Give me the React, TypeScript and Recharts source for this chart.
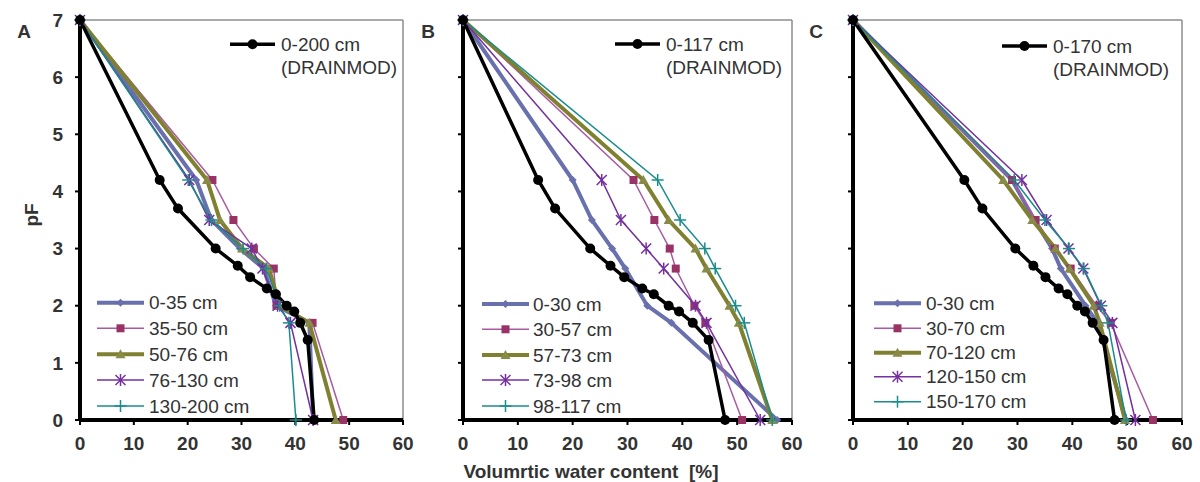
import React from "react";
import { LineChart, Line, XAxis, YAxis, ReferenceLine } from "recharts";

const FONT = '"Liberation Sans", Arial, sans-serif';

// pF levels of the measured points and of the DRAINMOD curve
const pfMeasured = [7, 4.2, 3.5, 3, 2.65, 2, 1.7, 0];
const pfModel = [7, 4.2, 3.7, 3, 2.7, 2.5, 2.3, 2.2, 2, 1.9, 1.7, 1.4, 0];

const xTicks = [0, 10, 20, 30, 40, 50, 60];
const yTicks = [0, 1, 2, 3, 4, 5, 6, 7];

// panel A
const aLabels = ["0-35 cm", "35-50 cm", "50-76 cm", "76-130 cm", "130-200 cm"];
const aModelLabel = "0-200 cm";
const aModel = [0, 14.8, 18.2, 25.2, 29.3, 31.6, 34.7, 36.4, 38.4, 39.8, 40.9, 42.3, 43.5];
const a1 = [0, 21.6, 24.4, 29.7, 34.1, 36.4, 42.6, 43.3];
const a2 = [0, 24.6, 28.5, 32.3, 36.0, 36.5, 43.2, 48.9];
const a3 = [0, 23.6, 26.0, 30.1, 35.1, 37.1, 42.6, 47.5];
const a4 = [0, 20.3, 24.0, 31.9, 33.9, 36.7, 39.1, 43.3];
const a5 = [0, 20.1, 24.4, 30.3, 34.6, 37.1, 38.8, 40.1];

// panel B
const bLabels = ["0-30 cm", "30-57 cm", "57-73 cm", "73-98 cm", "98-117 cm"];
const bModelLabel = "0-117 cm";
const bModel = [0, 13.7, 16.8, 23.2, 26.9, 29.4, 32.7, 34.8, 37.5, 39.4, 41.9, 44.8, 47.8];
const b1 = [0, 20.0, 23.5, 27.2, 29.6, 33.6, 38.0, 57.3];
const b2 = [0, 31.1, 34.9, 37.7, 38.8, 42.2, 44.2, 50.9];
const b3 = [0, 32.9, 37.5, 42.4, 44.4, 48.6, 50.3, 56.4];
const b4 = [0, 25.3, 28.8, 33.4, 36.6, 42.4, 44.4, 54.2];
const b5 = [0, 35.5, 39.6, 44.1, 46.0, 49.7, 51.3, 56.4];

// panel C
const cLabels = ["0-30 cm", "30-70 cm", "70-120 cm", "120-150 cm", "150-170 cm"];
const cModelLabel = "0-170 cm";
const cModel = [0, 20.3, 23.6, 29.6, 32.9, 35.1, 37.5, 39.1, 40.9, 42.3, 43.7, 45.7, 47.7];
const c1 = [0, 29.0, 33.1, 36.3, 37.9, 42.4, 44.6, 49.8];
const c2 = [0, 29.0, 33.3, 36.8, 39.7, 44.4, 47.0, 54.7];
const c3 = [0, 27.4, 32.7, 36.9, 39.5, 43.9, 45.0, 49.6];
const c4 = [0, 30.8, 35.3, 39.3, 42.0, 45.2, 47.3, 51.5];
const c5 = [0, 29.4, 35.0, 39.4, 42.1, 45.3, 46.5, 49.8];

type Shape = "diamond" | "square" | "triangle" | "star" | "plus" | "circle";
type Style = { stroke: string; mark: string; width: number; shape: Shape };

const styles: Style[] = [
  { stroke: "#6870ae", mark: "#6870ae", width: 4, shape: "diamond" },
  { stroke: "#a95aa2", mark: "#993366", width: 1.5, shape: "square" },
  { stroke: "#7f8030", mark: "#8a8a48", width: 4, shape: "triangle" },
  { stroke: "#73309e", mark: "#73309e", width: 1.5, shape: "star" },
  { stroke: "#1a8c8c", mark: "#1a8c8c", width: 1.5, shape: "plus" },
];
const modelStyle: Style = { stroke: "#000", mark: "#000", width: 3.5, shape: "circle" };

const toPoints = (xs: number[], pfs: number[]) => xs.map((x, i) => ({ x, y: pfs[i] }));

function Marker({ shape, x, y, color }: { shape: Shape; x: number; y: number; color: string }) {
  switch (shape) {
    case "diamond":
      return <path d={`M${x},${y - 4}L${x + 4},${y}L${x},${y + 4}L${x - 4},${y}Z`} fill={color} />;
    case "square":
      return <rect x={x - 4} y={y - 4} width={8} height={8} fill={color} />;
    case "triangle":
      return <path d={`M${x},${y - 5}L${x + 5},${y + 4}L${x - 5},${y + 4}Z`} fill={color} />;
    case "star":
      return (
        <g stroke={color} strokeWidth={1.5}>
          <line x1={x - 5} y1={y - 5} x2={x + 5} y2={y + 5} />
          <line x1={x - 5} y1={y + 5} x2={x + 5} y2={y - 5} />
          <line x1={x} y1={y - 6} x2={x} y2={y + 6} />
        </g>
      );
    case "plus":
      return (
        <g stroke={color} strokeWidth={1.5}>
          <line x1={x - 6} y1={y} x2={x + 6} y2={y} />
          <line x1={x} y1={y - 6} x2={x} y2={y + 6} />
        </g>
      );
    default:
      return <circle cx={x} cy={y} r={5} fill={color} />;
  }
}

const tickStyle = { fill: "#333", fontSize: 19, fontWeight: "bold", fontFamily: FONT };

function Panel({ id, left, width, marginLeft, marginRight, yWidth, showY, series, model }: {
  id: string; left: number; width: number; marginLeft: number; marginRight: number;
  yWidth: number; showY: boolean; series: number[][]; model: number[];
}) {
  const renderLine = (pts: { x: number; y: number }[], st: Style, name: string) => (
    <Line
      key={name}
      name={name}
      data={pts}
      dataKey="y"
      type="linear"
      stroke={st.stroke}
      strokeWidth={st.width}
      activeDot={false}
      isAnimationActive={false}
      dot={(p: any) => (
        <Marker key={`${name}-${p.index}`} shape={st.shape} x={p.cx} y={p.cy} color={st.mark} />
      )}
    />
  );
  return (
    <div style={{ position: "absolute", left, top: 0 }}>
      <LineChart width={width} height={482} margin={{ top: 20, right: marginRight, bottom: 22, left: marginLeft }}>
        <XAxis
          type="number" dataKey="x" domain={[0, 60]} ticks={xTicks} interval={0}
          axisLine={{ stroke: "#000", strokeWidth: 4 }} tickLine={{ stroke: "#000", strokeWidth: 2 }}
          tickSize={5} tickMargin={12} height={40} tick={tickStyle}
        />
        <YAxis
          type="number" domain={[0, 7]} ticks={yTicks} interval={0} width={yWidth}
          axisLine={{ stroke: "#000", strokeWidth: 4 }} tickLine={{ stroke: "#000", strokeWidth: 2 }}
          tickSize={5} tickMargin={12} tick={tickStyle}
          tickFormatter={(v: number) => (showY ? String(v) : "")}
        />
        <ReferenceLine y={7} stroke="#8c8c8c" strokeWidth={1.5} />
        <ReferenceLine x={60} stroke="#8c8c8c" strokeWidth={1.5} />
        {series.map((xs, i) => renderLine(toPoints(xs, pfMeasured), styles[i], `${id}${i}`))}
        {renderLine(toPoints(model, pfModel), modelStyle, `${id}model`)}
      </LineChart>
    </div>
  );
}

function LegendRow({ x1, x2, tx, y, st, label }: { x1: number; x2: number; tx: number; y: number; st: Style; label: string }) {
  return (
    <g>
      <line x1={x1} y1={y} x2={x2} y2={y} stroke={st.stroke} strokeWidth={st.width} />
      <Marker shape={st.shape} x={(x1 + x2) / 2} y={y} color={st.mark} />
      <text x={tx} y={y + 6.6} fontSize={19} fill="#333" fontFamily={FONT}>{label}</text>
    </g>
  );
}

function Legends({ x1, tx, rows, mx1, mtx, my, labels, modelLabel }: {
  x1: number; tx: number; rows: number[]; mx1: number; mtx: number; my: number; labels: string[]; modelLabel: string;
}) {
  return (
    <g>
      {labels.map((l, i) => (
        <LegendRow key={l} x1={x1} x2={x1 + 47} tx={tx} y={rows[i]} st={styles[i]} label={l} />
      ))}
      <LegendRow x1={mx1} x2={mx1 + 45} tx={mtx} y={my} st={modelStyle} label={modelLabel} />
      <text x={mtx} y={my + 29.5} fontSize={19} fill="#333" fontFamily={FONT}>(DRAINMOD)</text>
    </g>
  );
}

export default function App() {
  return (
    <div style={{ position: "absolute", left: 0, top: 0, width: 1200, height: 482, background: "#fff", overflow: "hidden" }}>
      <Panel id="a" left={0} width={420} marginLeft={50} marginRight={17} yWidth={30} showY series={[a1, a2, a3, a4, a5]} model={aModel} />
      <Panel id="b" left={440} width={372} marginLeft={8} marginRight={20} yWidth={15} showY={false} series={[b1, b2, b3, b4, b5]} model={bModel} />
      <Panel id="c" left={830} width={370} marginLeft={8} marginRight={18} yWidth={15} showY={false} series={[c1, c2, c3, c4, c5]} model={cModel} />
      <svg width={1200} height={482} style={{ position: "absolute", left: 0, top: 0, pointerEvents: "none" }}>
        <g fontFamily={FONT} fontWeight="bold" fontSize={19} fill="#333">
          <text x={24} y={38} textAnchor="middle">A</text>
          <text x={428} y={38} textAnchor="middle">B</text>
          <text x={816} y={38} textAnchor="middle">C</text>
          <text x={0} y={0} textAnchor="middle" transform="translate(38,215) rotate(-90)">pF</text>
          <text x={591} y={478} textAnchor="middle" style={{ whiteSpace: "pre" }}>{"Volumrtic water content  [%]"}</text>
        </g>
        <Legends x1={97} tx={149} rows={[302.7, 328.3, 354.3, 380, 406]} mx1={230} mtx={281} my={44.3} labels={aLabels} modelLabel={aModelLabel} />
        <Legends x1={482} tx={533} rows={[304, 329.3, 355, 380, 406]} mx1={615} mtx={666} my={44} labels={bLabels} modelLabel={bModelLabel} />
        <Legends x1={874} tx={926} rows={[303.3, 328.3, 352.7, 376.7, 401.7]} mx1={1002} mtx={1053} my={46} labels={cLabels} modelLabel={cModelLabel} />
      </svg>
    </div>
  );
}
